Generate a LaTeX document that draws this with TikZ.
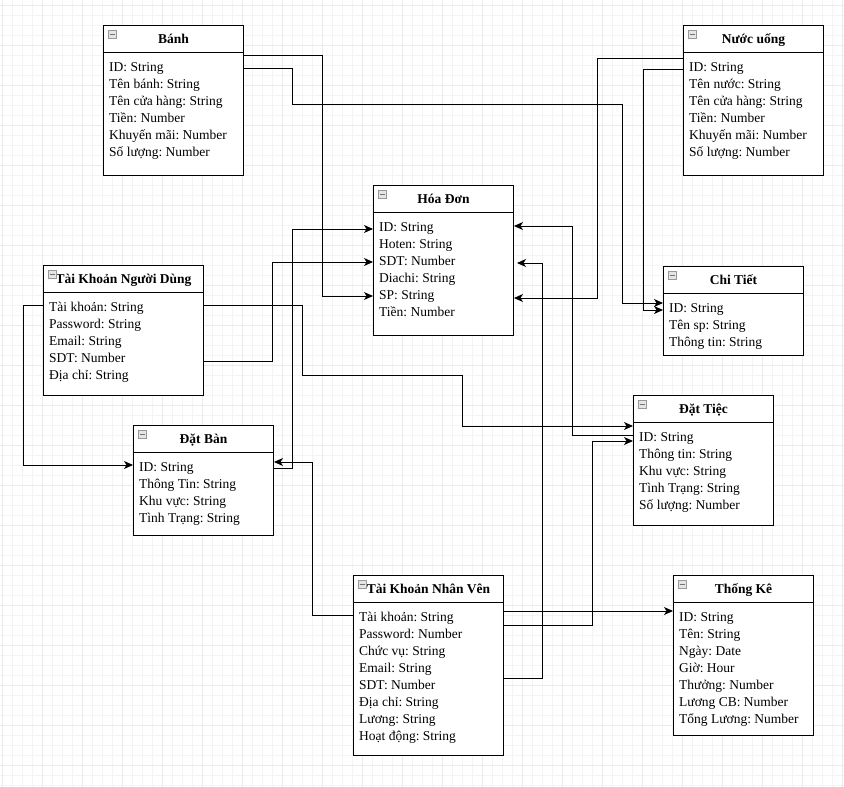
\documentclass[tikz,border=0pt]{standalone}
\usepackage{fontspec}
\setmainfont{Liberation Serif}
\usetikzlibrary{arrows.meta,calc}
\frenchspacing
\tikzset{
  erframe/.style={draw=black, line width=1pt, fill=white, inner sep=0pt, rectangle},
  ertitle/.style={inner sep=0pt, anchor=base, font=\fontsize{13.5}{15}\selectfont\bfseries},
  errow/.style={inner sep=0pt, anchor=base west, font=\fontsize{13.5}{15}\selectfont},
  conn/.style={line width=1pt, draw=black},
  arr/.style={conn, -{Stealth[length=9pt,width=8pt,inset=2.5pt]}},
}
\newcommand{\erbox}[7]{%
  \node[erframe, minimum width=#4pt, minimum height=#5pt, anchor=north west] (#1) at (#2,#3) {};
  \draw[line width=1pt] ([yshift=-27pt]#1.north west) -- ([yshift=-27pt]#1.north east);
  \node[ertitle] (#1-t) at ([yshift=-18.5pt]#1.north) {\frenchspacing #6};
  \draw[fill=gray!20, draw=gray!80, line width=0.6pt] ([xshift=5pt,yshift=-5pt]#1.north west) rectangle ++(8,8);
  \draw[line width=0.8pt, gray!90!black] ([xshift=6.5pt,yshift=-9pt]#1.north west) -- ++(5,0);
  \foreach \r [count=\i] in {#7} {
    \node[errow] (#1-\i) at ([xshift=6pt, yshift={-46-17*(\i-1)}]#1.north west) {\frenchspacing\r};
  }%
}
\begin{document}
\begin{tikzpicture}[x=1pt,y=-1pt]
\useasboundingbox (0,0) rectangle (844,787);
% grid
\fill[white] (0,0) rectangle (844,787);
\foreach \gx in {2,12,...,842} \draw[gray!9, line width=0.6pt] (\gx,0) -- (\gx,787);
\foreach \gy in {5,15,...,785} \draw[gray!9, line width=0.6pt] (0,\gy) -- (844,\gy);
\foreach \gx in {2,42,...,842} \draw[gray!16, line width=0.6pt] (\gx,0) -- (\gx,787);
\foreach \gy in {5,45,...,785} \draw[gray!16, line width=0.6pt] (0,\gy) -- (844,\gy);

\erbox{banh}{103}{25}{140}{150}{Bánh}{ID: String,Tên bánh: String,Tên cửa hàng: String,Tiền: Number,Khuyến mãi: Number,Số lượng: Number}
\erbox{nuoc}{683}{25}{140}{150}{Nước uống}{ID: String,Tên nước: String,Tên cửa hàng: String,Tiền: Number,Khuyến mãi: Number,Số lượng: Number}
\erbox{hoadon}{373}{185}{140}{150}{Hóa Đơn}{ID: String,Hoten: String,SDT: Number,Diachi: String,SP: String,Tiền: Number}
\erbox{tknd}{43}{265}{160}{130}{Tài Khoản Người Dùng}{Tài khoản: String,Password: String,Email: String,SDT: Number,Địa chỉ: String}
\erbox{chitiet}{663}{266}{140}{89}{Chi Tiết}{ID: String,Tên sp: String,Thông tin: String}
\erbox{datban}{133}{425}{140}{110}{Đặt Bàn}{ID: String,Thông Tin: String,Khu vực: String,Tình Trạng: String}
\erbox{dattiec}{633}{395}{140}{130}{Đặt Tiệc}{ID: String,Thông tin: String,Khu vực: String,Tình Trạng: String,Số lượng: Number}
\erbox{tknv}{353}{575}{150}{180}{Tài Khoản Nhân Vên}{Tài khoản: String,Password: Number,Chức vụ: String,Email: String,SDT: Number,Địa chỉ: String,Lương: String,Hoạt động: String}
\erbox{thongke}{673}{575}{140}{160}{Thống Kê}{ID: String,Tên: String,Ngày: Date,Giờ: Hour,Thưởng: Number,Lương CB: Number,Tổng Lương: Number}

% connectors
\draw[arr] ([yshift=-30pt]banh.north east) -- (322,55) |- ([yshift=-111pt]hoadon.north west);
\draw[arr] ([yshift=-43pt]banh.north east) -- (292,68) -- (292,104) -- (622,104) |- ([yshift=-37pt]chitiet.north west);
\draw[arr] ([yshift=-33pt]nuoc.north west) -- (597,58) |- ([yshift=-113pt]hoadon.north east);
\draw[arr] ([yshift=-44pt]nuoc.north west) -- (643,69) |- ([yshift=-44pt]chitiet.north west);
\draw[arr] ([yshift=-40pt]dattiec.north west) -- (572,435) |- ([yshift=-41pt]hoadon.north east);
\draw[arr] ([yshift=-103pt]tknv.north east) -- (542,678) |- ([xshift=3pt,yshift=-78pt]hoadon.north east);
\draw[arr] ([yshift=-40pt]tknd.north east) -- (302,305) -- (302,375) -- (462,375) |- ([yshift=-31pt]dattiec.north west);
\draw[arr] ([yshift=-96pt]tknd.north east) -- (272,361) |- ([yshift=-77pt]hoadon.north west);
\draw[arr] ([yshift=-40pt]tknd.north west) -- (23,305) |- ([yshift=-40pt]datban.north west);
\draw[arr] ([yshift=-43pt]datban.north east) -- (292,468) |- ([yshift=-44pt]hoadon.north west);
\draw[arr] ([yshift=-40pt]tknv.north west) -- (312,615) |- ([yshift=-37pt]datban.north east);
\draw[arr] ([yshift=-50pt]tknv.north east) -- (592,625) |- ([yshift=-46pt]dattiec.north west);
\draw[arr] ([yshift=-36pt]tknv.north east) -- ([yshift=-36pt]thongke.north west);
\end{tikzpicture}
\end{document}
